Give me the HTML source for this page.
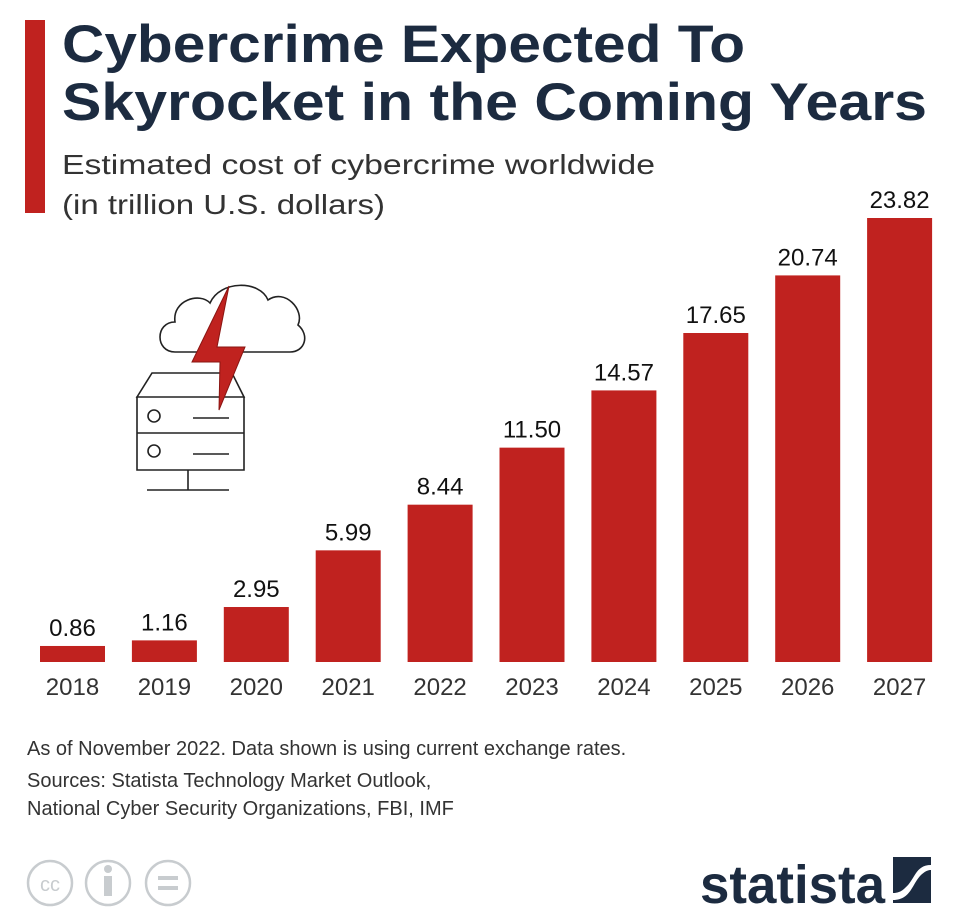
<!DOCTYPE html>
<html><head><meta charset="utf-8"><style>
html,body{margin:0;padding:0;background:#fff;}
svg{display:block;font-family:"Liberation Sans",sans-serif;}
</style></head><body>
<svg id="chart" width="961" height="923" viewBox="0 0 961 923">
<rect x="25" y="20" width="20" height="193" fill="#c0221f"/>
<text x="62" y="62" font-size="53" font-weight="bold" fill="#1c2b40" textLength="683" lengthAdjust="spacingAndGlyphs">Cybercrime Expected To</text>
<text x="62" y="120" font-size="53" font-weight="bold" fill="#1c2b40" textLength="865" lengthAdjust="spacingAndGlyphs">Skyrocket in the Coming Years</text>
<text x="62" y="174" font-size="28" fill="#333" textLength="593" lengthAdjust="spacingAndGlyphs">Estimated cost of cybercrime worldwide</text>
<text x="62" y="214" font-size="28" fill="#333" textLength="323" lengthAdjust="spacingAndGlyphs">(in trillion U.S. dollars)</text>

<g fill="none" stroke="#222" stroke-width="1.6">
<path d="M175,352 C155,352 155,322 175,322 C172,300 200,292 210,303 C220,280 260,280 268,300 C285,288 305,310 298,325 C310,335 305,352 290,352 Z"/>
<path d="M137,397 L152,373 L232,373 L244,397 Z M137,397 H244 V470 H137 Z M137,433 H244"/>
<circle cx="154" cy="416" r="6"/>
<circle cx="154" cy="451" r="6"/>
<path d="M193,418 H229 M193,454 H229 M188,470 V490 M147,490 H229"/>
<polygon points="229,286 192,362 220,362 219,410 245,347 217,347" fill="#c0221f" stroke="#8a1512" stroke-width="1"/>
</g>

<g id="bars"></g>

<text x="27" y="755" font-size="20" fill="#333">As of November 2022. Data shown is using current exchange rates.</text>
<text x="27" y="787" font-size="20" fill="#333">Sources: Statista Technology Market Outlook,</text>
<text x="27" y="815" font-size="20" fill="#333">National Cyber Security Organizations, FBI, IMF</text>

<g fill="none" stroke="#c8cccf" stroke-width="2.5">
<circle cx="50" cy="883" r="22"/><circle cx="108" cy="883" r="22"/><circle cx="168" cy="883" r="22"/>
<text x="50" y="891" font-size="20" fill="#c8cccf" stroke="none" text-anchor="middle">cc</text>
<rect x="104" y="876" width="8" height="20" fill="#c8cccf" stroke="none"/><circle cx="108" cy="869" r="4" fill="#c8cccf" stroke="none"/>
<path d="M158,878 H178 M158,888 H178" stroke-width="4"/>
</g>
<text x="700" y="903" font-size="54" font-weight="bold" fill="#1c2b40" textLength="185" lengthAdjust="spacingAndGlyphs">statista</text>
<g>
<rect x="893" y="857" width="38" height="46" fill="#1c2b40"/>
<path d="M931,865 C915,865 915,880 905,888 C900,893 895,893 893,893 L893,900 C910,900 912,885 920,876 C925,871 928,870 931,870 Z" fill="#fff"/>
</g>
</svg>
<script>
const years = ["2018","2019","2020","2021","2022","2023","2024","2025","2026","2027"];
const values = [0.86,1.16,2.95,5.99,8.44,11.50,14.57,17.65,20.74,23.82];
const labels = ["0.86","1.16","2.95","5.99","8.44","11.50","14.57","17.65","20.74","23.82"];
const NS="http://www.w3.org/2000/svg";
const g=document.getElementById('bars');
const base=662, scale=444/23.82, x0=40, step=91.9, bw=65;
function xPos(i){return x0+i*step;}
function yPos(v){return base-v*scale;}
years.forEach((yr,i)=>{
  const r=document.createElementNS(NS,'rect');
  r.setAttribute('x',xPos(i));r.setAttribute('y',yPos(values[i]));
  r.setAttribute('width',bw);r.setAttribute('height',base-yPos(values[i]));
  r.setAttribute('fill','#c0221f');
  
  
  g.appendChild(r);
  const t=document.createElementNS(NS,'text');
  t.setAttribute('x',xPos(i)+bw/2);t.setAttribute('y',yPos(values[i])-10);
  t.setAttribute('text-anchor','middle');t.setAttribute('font-size','24');t.setAttribute('fill','#111');
  t.textContent=labels[i];
  
  
  g.appendChild(t);
  const y=document.createElementNS(NS,'text');
  y.setAttribute('x',xPos(i)+bw/2);y.setAttribute('y',695);
  y.setAttribute('text-anchor','middle');y.setAttribute('font-size','24');y.setAttribute('fill','#333');
  y.textContent=yr;
  
  
  g.appendChild(y);
});
</script>
</body></html>
